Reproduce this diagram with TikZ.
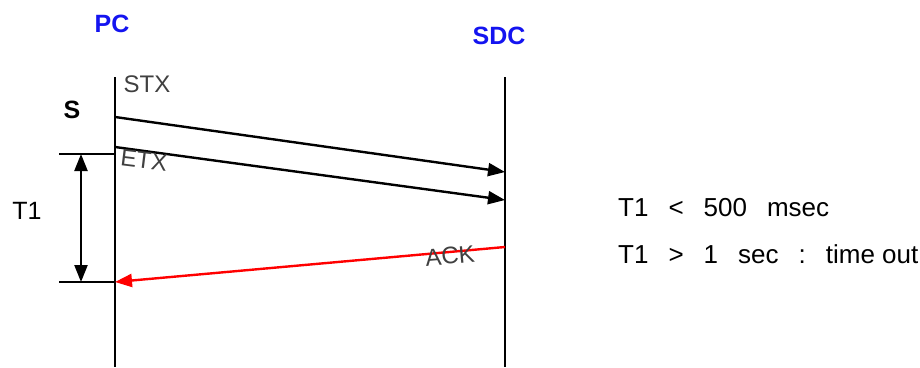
\documentclass[tikz,border=0pt]{standalone}
\usepackage{fontspec}
\setmainfont{Liberation Sans}
\usetikzlibrary{arrows.meta}
\definecolor{pcblue}{RGB}{20,20,240}
\newcommand{\gapw}{\hspace{20pt}}
\tikzset{
  lifeline/.style={line width=1.8pt,black},
  msg/.style={line width=2.4pt,-{Triangle[length=17pt,width=13pt]}},
  tick/.style={line width=1.8pt},
  hdr/.style={font=\fontsize{25}{30}\selectfont\bfseries,text=pcblue,inner sep=0pt},
  thin/.style={font=\fontsize{24}{28}\selectfont,text=black!75,inner sep=0pt},
  txt/.style={font=\fontsize{26}{30}\selectfont,inner sep=0pt,anchor=west}
}
\begin{document}
\begin{tikzpicture}[x=1pt,y=-1pt]
\useasboundingbox (0,0) rectangle (920,367);
% lifelines
\coordinate (pctop) at (115,77);
\coordinate (pcbot) at (115,367);
\coordinate (sdctop) at (505,77);
\coordinate (sdcbot) at (505,367);
\draw[lifeline] (pctop) -- (pcbot);
\draw[lifeline] (sdctop) -- (sdcbot);
% headers
\node[hdr] (pc) at (112,24) {PC};
\node[hdr] (sdc) at (499,36) {SDC};
\node[font=\fontsize{25}{30}\selectfont\bfseries,inner sep=0pt] (s) at (72,110) {S};
% messages
\coordinate (stxs) at (115,117);
\coordinate (stxe) at (505,172);
\coordinate (etxs) at (115,147);
\coordinate (etxe) at (505,200);
\coordinate (acks) at (505,247);
\coordinate (acke) at (115,282);
\draw[msg] (stxs) -- (stxe);
\draw[msg] (etxs) -- (etxe);
\draw[msg,red] (acks) -- (acke);
\node[thin] (stx) at (147,84) {STX};
\node[thin,rotate=-7] (etx) at (144,160) {ETX};
\node[thin,rotate=5] (ack) at (450,256) {ACK};
% T1 dimension
\coordinate (t1a) at (59,154);
\coordinate (t1b) at (115,154);
\coordinate (t2a) at (59,282);
\coordinate (t2b) at (115,282);
\draw[tick] (t1a) -- (t1b);
\draw[tick] (t2a) -- (t2b);
\coordinate (d1) at (81,154);
\coordinate (d2) at (81,282);
\draw[line width=2.4pt,{Triangle[length=17pt,width=13pt]}-{Triangle[length=17pt,width=13pt]}] (d1) -- (d2);
\node[font=\fontsize{25}{30}\selectfont,inner sep=0pt] (t1) at (27,211) {T1};
% notes
\node[txt] (n1) at (618,208) {T1\gapw<\gapw500\gapw msec};
\node[txt] (n2) at (618,254) {T1\gapw>\gapw1\gapw sec\gapw:\gapw time out};
\end{tikzpicture}
\end{document}
